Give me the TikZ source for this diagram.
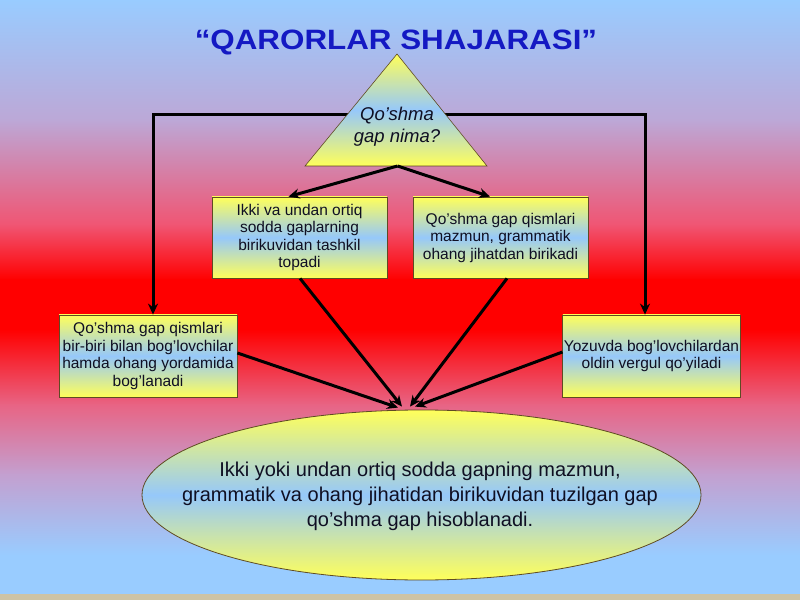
\documentclass[tikz,border=0pt]{standalone}
\usepackage{fontspec}
\setmainfont{Liberation Sans}
\usetikzlibrary{arrows.meta,shapes.geometric}

\definecolor{bgA}{RGB}{153,204,255}
\definecolor{bgB}{RGB}{188,168,215}
\definecolor{bgC}{RGB}{240,85,115}
\definecolor{bgR}{RGB}{255,0,0}
\definecolor{bgD}{RGB}{232,100,132}
\definecolor{bgE}{RGB}{195,160,208}
\definecolor{tan}{RGB}{205,195,165}
\definecolor{yel}{RGB}{255,255,90}
\definecolor{lblue}{RGB}{150,200,250}
\definecolor{titleblue}{RGB}{20,25,195}
\definecolor{ink}{RGB}{15,15,35}
\definecolor{edgec}{RGB}{95,75,35}

\tikzset{
  boxnode/.style={draw=edgec, line width=0.8pt, top color=yel, bottom color=yel,
    middle color=lblue, minimum height=81pt, inner sep=1pt, align=center,
    font=\fontsize{15.5}{17.5}\selectfont, text=ink},
  arr/.style={line width=3pt, draw=black, -{Stealth[length=11pt,width=10pt]}},
}

\begin{document}
\begin{tikzpicture}[x=1pt,y=1pt]
\useasboundingbox (0,0) rectangle (800,600);
% background
\shade[top color=bgA, bottom color=bgB] (0,480) rectangle (800,600.5);
\shade[top color=bgB, bottom color=bgC] (0,375) rectangle (800,480.5);
\shade[top color=bgC, bottom color=bgR] (0,320) rectangle (800,375.5);
\fill[bgR] (0,270) rectangle (800,320.5);
\shade[top color=bgR, bottom color=bgD] (0,195) rectangle (800,270.5);
\shade[top color=bgD, bottom color=bgE] (0,125) rectangle (800,195.5);
\shade[top color=bgE, bottom color=bgA] (0,45) rectangle (800,125.5);
\fill[bgA] (0,6) rectangle (800,45.5);
\fill[tan] (0,0) rectangle (800,6.5);

% title
\node[font=\fontsize{28}{30}\selectfont\bfseries, text=titleblue, xscale=1.12, anchor=base] (title) at (396,550) {“QARORLAR SHAJARASI”};

% boxes
\node[boxnode, minimum width=175pt] (b1) at (299.5,362.5) {Ikki va undan ortiq\\sodda gaplarning\\birikuvidan tashkil\\topadi};
\node[boxnode, minimum width=175pt] (b2) at (500.5,362.5) {Qo’shma gap qismlari\\mazmun, grammatik\\ohang jihatdan birikadi};
\node[boxnode, minimum width=178pt, minimum height=82pt] (lb) at (148,244) {Qo’shma gap qismlari\\bir-biri bilan bog’lovchilar\\hamda ohang yordamida\\bog’lanadi};
\node[boxnode, minimum width=177pt, minimum height=82pt] (rb) at (651.5,244) {Yozuvda bog’lovchilardan\\oldin vergul qo’yiladi};

% triangle
\coordinate (tl) at (365,485);
\coordinate (tr) at (430,485);
\coordinate (tb) at (397.5,434);
\draw[arr] (tl) -| ([xshift=5pt]lb.north);
\draw[arr] (tr) -| ([xshift=-6.5pt]rb.north);
\draw[draw=edgec, line width=0.6pt, top color=yel, bottom color=yel, middle color=lblue]
  (397,546) -- (487,434) -- (305,434) -- cycle;
\node[font=\fontsize{18.5}{22}\selectfont\itshape, align=center, text=ink] (tri) at (397,473) {Qo’shma\\gap nima?};
\draw[arr] (tb) -- ([xshift=-11pt]b1.north);
\draw[arr] (tb) -- ([xshift=-10.5pt]b2.north);

% ellipse
\node[ellipse, draw=edgec, line width=0.8pt, minimum width=559pt, minimum height=170pt,
  inner sep=0pt, top color=yel, bottom color=yel, middle color=lblue] (ell) at (421.5,105) {};
\node[align=center, font=\fontsize{20}{25}\selectfont, text=ink] (elltext) at (420,104)
  {Ikki yoki undan ortiq sodda gapning mazmun,\\grammatik va ohang jihatidan birikuvidan tuzilgan gap\\qo’shma gap hisoblanadi.};
\coordinate (e1) at ([shift={(-23.5,2)}]ell.north);
\coordinate (e2) at ([shift={(-19.5,3)}]ell.north);
\coordinate (e3) at ([shift={(-11.5,3)}]ell.north);
\coordinate (e4) at ([shift={(-6.5,3)}]ell.north);

\draw[arr] ([xshift=0.5pt]b1.south) -- (e2);
\draw[arr] ([xshift=6.5pt]b2.south) -- (e3);
\draw[arr] ([yshift=3pt]lb.east) -- (e1);
\draw[arr] ([yshift=4pt]rb.west) -- (e4);
\end{tikzpicture}
\end{document}
